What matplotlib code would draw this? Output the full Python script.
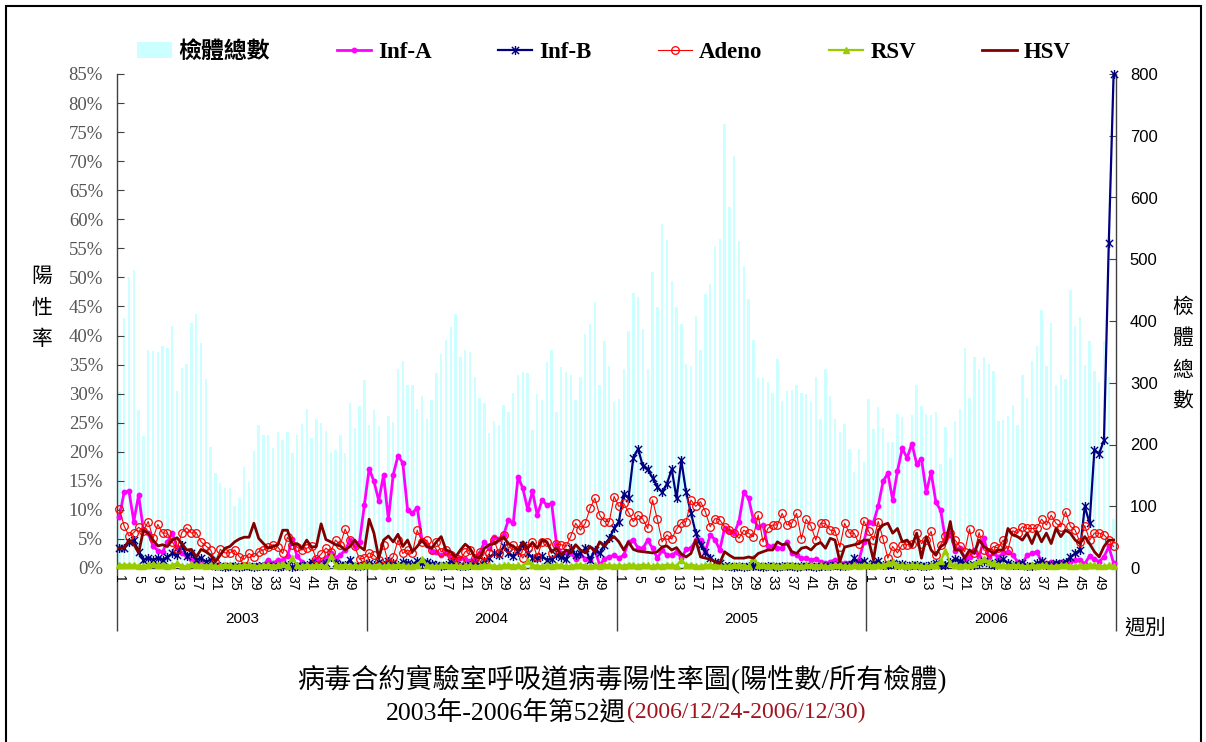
import numpy as np
import matplotlib
matplotlib.use("Agg")
import matplotlib.pyplot as plt
from matplotlib.path import Path
from matplotlib.patches import Patch, Rectangle
from matplotlib.ticker import FuncFormatter

# ── Data (weekly, 2003 wk1 .. 2006 wk52) ─────────────────────────────────
years = ["2003", "2004", "2005", "2006"]
week_labels = [str(w) for w in range(1, 53, 4)]

specimens = [
    # 2003
    285, 405, 472, 483, 256, 213, 353, 351, 349, 360,
    357, 392, 287, 324, 331, 397, 412, 365, 306, 196,
    154, 138, 129, 130, 100, 114, 164, 140, 189, 232,
    215, 215, 194, 221, 207, 221, 187, 215, 233, 257,
    210, 241, 235, 222, 188, 191, 215, 187, 268, 226,
    262, 304,
    # 2004
    232, 256, 230, 148, 246, 237, 322, 335, 296, 296,
    257, 279, 241, 272, 315, 347, 370, 391, 412, 342,
    353, 350, 310, 275, 268, 219, 238, 232, 264, 253,
    284, 313, 318, 315, 223, 281, 272, 334, 353, 253,
    326, 318, 313, 272, 310, 379, 395, 430, 296, 367,
    327, 269,
    # 2005
    273, 323, 383, 446, 439, 387, 323, 480, 422, 557,
    531, 465, 423, 395, 330, 327, 408, 353, 444, 460,
    521, 532, 719, 584, 667, 530, 489, 436, 370, 307,
    307, 302, 284, 338, 271, 287, 288, 296, 284, 282,
    269, 310, 242, 323, 279, 241, 220, 233, 193, 155,
    193, 171,
    # 2006
    273, 225, 260, 226, 204, 204, 249, 244, 195, 248,
    296, 262, 250, 248, 253, 168, 228, 178, 238, 257,
    356, 276, 341, 323, 341, 330, 319, 238, 240, 246,
    264, 232, 313, 276, 335, 360, 418, 327, 396, 296,
    313, 306, 451, 392, 406, 329, 368, 319, 302, 367,
    310, 80,
]

inf_a = [
    8.8, 13.1, 13.2, 8.0, 12.6, 6.5, 6.0, 3.8, 3.0, 2.8,
    4.5, 6.0, 3.5, 2.5, 2.0, 1.5, 1.0, 0.8, 0.5, 0.4,
    0.3, 0.3, 0.5, 0.3, 0.4, 0.3, 0.5, 0.3, 0.4, 0.5,
    0.6, 1.4, 0.8, 1.4, 1.3, 2.0, 5.0, 2.0, 1.1, 0.6,
    1.0, 1.5, 1.0, 1.8, 2.5, 1.8, 2.2, 3.1, 4.8, 3.8,
    4.5, 10.8,
    17.1, 14.9, 11.6, 16.0, 8.4, 16.0, 19.3, 18.1, 10.0, 9.4,
    10.4, 4.8, 4.0, 3.0, 2.8, 2.2, 2.5, 2.0, 1.5, 1.8,
    1.5, 1.2, 1.6, 2.5, 4.5, 3.5, 5.4, 5.0, 5.7, 8.3,
    7.7, 15.7, 13.7, 10.1, 13.2, 9.1, 11.7, 10.8, 11.1, 4.2,
    2.5, 2.8, 2.5, 1.6, 2.2, 1.6, 1.4, 3.1, 0.5, 1.6,
    1.9, 2.2,
    1.7, 2.2, 4.5, 4.8, 3.4, 3.4, 4.8, 3.4, 1.7, 3.1,
    2.2, 2.2, 2.8, 1.7, 3.2, 3.4, 4.8, 4.8, 2.8, 5.7,
    4.9, 3.1, 6.8, 6.3, 6.0, 8.0, 13.0, 12.0, 8.3, 7.1,
    7.4, 3.7, 3.7, 3.4, 3.4, 4.5, 2.5, 2.2, 1.7, 1.7,
    1.4, 1.5, 1.1, 0.8, 1.1, 1.4, 0.9, 0.8, 0.8, 1.1,
    1.4, 4.5,
    8.0, 7.8, 10.7, 14.9, 16.3, 11.7, 16.7, 20.6, 18.9, 21.4,
    17.9, 18.8, 13.0, 16.5, 11.3, 9.9, 4.8, 6.1, 3.0, 3.4,
    1.8, 1.9, 3.1, 1.9, 5.1, 1.9, 2.5, 1.9, 2.5, 2.8,
    2.2, 1.1, 0.8, 2.2, 2.5, 2.8, 1.1, 0.8, 1.1, 0.8,
    1.1, 0.8, 1.1, 1.4, 1.4, 0.7, 2.1, 1.5, 1.1, 1.9,
    3.7, 0.8,
]

inf_b = [
    3.4, 3.4, 4.5, 4.8, 2.8, 1.4, 1.7, 1.4, 1.7, 1.4,
    1.9, 2.5, 2.2, 4.0, 2.1, 2.6, 1.4, 1.7, 1.1, 1.4,
    0.3, 0.3, 0.2, 0.3, 0.3, 0.2, 0.3, 0.3, 0.2, 0.3,
    0.3, 0.4, 0.3, 0.2, 0.3, 0.5, 0.1, 0.3, 0.4, 0.5,
    1.1, 0.6, 0.5, 0.8, 1.9, 0.8, 0.6, 0.5, 1.4, 0.3,
    0.4, 0.6,
    0.8, 0.5, 1.0, 0.6, 1.2, 0.8, 0.5, 1.0, 0.9, 0.6,
    1.2, 0.8, 1.1, 0.7, 0.5, 0.4, 0.6, 1.1, 0.5, 0.4,
    0.3, 0.5, 0.8, 0.5, 1.2, 1.8, 2.5, 2.2, 3.7, 2.5,
    2.0, 2.8, 4.0, 2.5, 1.8, 1.7, 2.0, 1.4, 1.5, 2.2,
    1.9, 1.5, 3.4, 2.2, 2.5, 3.4, 1.4, 3.1, 2.5, 4.0,
    5.1, 6.8,
    8.0, 12.8, 12.0, 19.0, 20.5, 17.5, 17.0, 15.5, 14.0, 13.0,
    14.5, 17.0, 12.0, 18.5, 13.0, 9.5, 6.0, 4.0, 2.8, 1.8,
    1.0, 0.8, 0.4, 0.3, 0.2, 0.3, 0.2, 0.3, 0.4, 0.3,
    0.2, 0.3, 0.3, 0.2, 0.4, 0.3, 0.3, 0.2, 0.4, 0.3,
    0.3, 0.2, 0.3, 0.4, 0.3, 0.5, 0.4, 0.3, 0.5, 1.7,
    0.8, 1.2,
    0.5, 0.8, 1.2, 0.5, 0.6, 0.8, 0.5, 0.7, 0.4, 0.6,
    0.5, 0.3, 0.4, 0.6, 0.8, 0.5, 0.6, 1.0, 1.5, 1.2,
    0.8, 0.6, 0.5, 0.9, 1.2, 0.8, 0.6, 1.0, 1.5, 0.8,
    0.6, 0.5, 0.9, 0.4, 0.3, 0.8, 1.2, 0.5, 0.6, 0.9,
    0.7, 1.1, 1.9, 2.5, 3.1, 10.6, 7.7, 20.3, 19.7, 22.0,
    56.0, 85.0,
]

adeno = [
    10.1, 7.2, 5.5, 6.1, 7.0, 6.4, 8.0, 5.1, 7.5, 6.0,
    6.0, 4.5, 3.2, 6.1, 6.9, 6.0, 6.1, 4.5, 3.8, 3.1,
    1.1, 3.2, 2.6, 2.6, 3.1, 1.9, 1.5, 2.5, 1.9, 2.8,
    3.1, 3.6, 4.0, 3.6, 2.5, 5.3, 4.0, 3.6, 3.1, 3.4,
    3.8, 1.5, 2.4, 3.4, 2.8, 4.8, 4.0, 6.7, 4.8, 3.7,
    1.5, 1.7,
    2.6, 2.2, 1.4, 4.0, 0.8, 1.9, 4.8, 2.5, 3.1, 2.5,
    6.5, 4.5, 4.8, 3.1, 4.5, 2.8, 3.1, 2.2, 1.7, 1.4,
    2.8, 3.1, 1.7, 2.8, 1.1, 2.5, 4.8, 2.5, 5.7, 3.4,
    4.0, 3.1, 1.7, 3.4, 4.5, 1.9, 4.5, 4.5, 2.5, 4.1,
    4.0, 3.7, 5.5, 7.7, 6.5, 7.7, 10.3, 12.0, 9.1, 8.0,
    8.0, 12.3,
    10.6, 11.1, 9.6, 8.0, 9.1, 8.4, 6.8, 11.7, 8.4, 4.5,
    5.7, 5.0, 6.7, 7.8, 8.0, 11.7, 10.6, 11.4, 9.7, 7.1,
    8.5, 8.3, 7.1, 6.5, 6.1, 5.1, 6.5, 6.0, 5.4, 9.1,
    4.5, 6.8, 7.4, 7.4, 9.4, 7.4, 7.7, 9.4, 5.0, 8.4,
    7.2, 4.8, 7.7, 7.7, 6.5, 6.4, 3.6, 7.7, 6.0, 6.0,
    4.1, 8.1,
    6.3, 4.8, 8.0, 5.0, 1.7, 3.7, 2.6, 4.0, 4.0, 4.2,
    6.0, 4.2, 4.8, 6.3, 2.2, 4.0, 5.5, 6.0, 4.8, 3.7,
    2.8, 6.7, 2.5, 6.1, 3.1, 2.8, 3.7, 3.4, 4.8, 3.1,
    6.4, 6.0, 7.1, 6.8, 6.8, 6.8, 8.4, 7.4, 9.1, 7.7,
    7.1, 9.7, 7.2, 6.5, 4.4, 7.3, 4.8, 6.0, 6.0, 5.7,
    4.8, 3.7,
]

rsv = [
    0.6, 0.5, 0.6, 0.5, 0.4, 0.3, 0.6, 0.7, 0.5, 0.6,
    0.4, 0.5, 0.8, 0.4, 0.3, 0.7, 0.5, 0.6, 0.4, 0.5,
    0.3, 0.4, 0.6, 0.5, 0.3, 0.4, 0.5, 0.6, 0.4, 0.3,
    0.5, 0.6, 0.4, 0.5, 0.7, 0.4, 1.7, 0.5, 0.3, 0.6,
    0.4, 0.5, 0.6, 0.3, 2.0, 0.5, 0.4, 0.6, 0.3, 0.5,
    0.4, 0.6,
    0.5, 0.4, 0.6, 0.3, 0.5, 0.4, 0.6, 0.5, 0.3, 0.4,
    0.6, 1.5, 0.5, 0.4, 0.3, 0.5, 0.6, 0.4, 0.5, 0.3,
    0.4, 0.5, 0.3, 0.4, 0.6, 0.5, 0.4, 0.3, 0.5, 0.6,
    0.4, 0.5, 0.3, 1.2, 0.5, 0.4, 0.3, 0.5, 0.4, 0.6,
    0.5, 0.3, 0.4, 0.5, 0.6, 0.4, 0.3, 0.5, 0.4, 0.6,
    0.5, 0.4,
    0.5, 0.4, 0.6, 0.5, 0.4, 0.6, 0.5, 0.3, 0.5, 0.4,
    0.6, 0.5, 0.4, 1.4, 0.5, 0.6, 0.4, 0.3, 0.5, 0.6,
    0.4, 0.5, 0.3, 0.4, 0.5, 0.6, 0.4, 0.3, 1.7, 0.5,
    0.6, 0.4, 0.5, 0.3, 0.4, 0.6, 0.5, 0.4, 0.3, 0.5,
    0.6, 0.4, 0.5, 0.3, 0.4, 0.6, 0.5, 0.4, 0.3, 0.5,
    0.4, 0.6,
    0.5, 0.4, 0.6, 0.5, 0.8, 1.0, 0.6, 0.5, 0.4, 0.6,
    0.5, 0.4, 0.3, 0.5, 0.6, 1.2, 3.0, 0.8, 0.5, 0.4,
    0.6, 0.5, 0.7, 1.2, 1.5, 1.0, 0.8, 0.6, 0.5, 0.4,
    0.6, 0.5, 0.4, 0.3, 0.5, 0.4, 0.6, 0.5, 0.3, 0.4,
    0.5, 0.6, 0.4, 0.3, 0.5, 0.4, 0.6, 0.5, 0.4, 0.3,
    0.5, 0.4,
]

hsv = [
    3.4, 3.5, 4.8, 4.1, 2.6, 6.5, 6.0, 4.8, 3.8, 4.0,
    3.7, 4.8, 5.2, 4.2, 3.1, 3.2, 1.9, 3.2, 2.8, 2.2,
    1.1, 2.2, 3.4, 3.7, 4.5, 5.0, 5.3, 5.3, 7.7, 5.1,
    4.2, 3.4, 3.7, 4.0, 6.5, 6.5, 4.0, 4.2, 3.4, 4.8,
    3.6, 3.7, 7.6, 4.9, 4.5, 4.0, 3.8, 3.1, 3.7, 4.8,
    3.7, 3.1,
    8.4, 6.0, 1.7, 4.8, 5.5, 4.5, 5.8, 3.7, 4.8, 2.8,
    3.7, 4.8, 3.7, 3.4, 4.5, 5.4, 3.1, 2.8, 1.9, 3.1,
    4.1, 3.4, 1.9, 1.7, 3.4, 4.0, 4.2, 4.8, 5.3, 4.2,
    3.7, 3.1, 4.5, 3.4, 4.4, 3.4, 4.8, 4.5, 2.8, 3.4,
    2.2, 3.1, 2.6, 4.0, 3.1, 2.6, 3.7, 2.8, 4.5, 3.7,
    4.8, 5.4,
    4.5, 3.1, 4.5, 3.2, 2.9, 2.8, 2.7, 2.6, 2.8, 3.6,
    3.8, 3.1, 3.5, 2.4, 1.9, 2.5, 4.8, 1.9, 1.7, 1.5,
    1.1, 0.8, 2.8, 2.2, 1.7, 1.7, 1.7, 1.9, 1.7, 2.5,
    2.8, 3.1, 3.1, 4.5, 4.0, 4.2, 2.8, 2.5, 3.4, 3.6,
    3.1, 4.0, 4.4, 3.4, 5.1, 4.8, 1.1, 3.6, 3.8, 4.0,
    4.2, 4.8,
    4.8, 1.4, 6.5, 7.4, 7.7, 6.0, 6.8, 4.5, 4.8, 3.7,
    6.0, 1.7, 5.4, 3.1, 2.2, 3.7, 4.2, 8.0, 3.1, 3.1,
    1.7, 3.1, 2.5, 4.8, 3.7, 3.1, 2.5, 3.1, 3.1, 6.8,
    5.7, 5.4, 4.8, 6.0, 4.2, 6.3, 4.5, 6.0, 4.2, 6.8,
    5.4, 6.5, 6.0, 4.8, 4.2, 5.4, 4.2, 2.8, 1.9, 3.7,
    4.8, 4.8,
]

# ── Figure ────────────────────────────────────────────────────────────────
W, H = 1206, 742
CJK = ["Liberation Serif", "Noto Sans CJK TC"]
CJK_SANS = ["Noto Sans CJK TC", "DejaVu Sans"]

fig = plt.figure(figsize=(W / 100, H / 100), dpi=100)
ax = fig.add_axes([117 / W, 1 - 568 / H, (1116 - 117) / W, (568 - 74) / H])

n_weeks = 52 * len(years)
x = np.arange(n_weeks)

# bars (right axis)
ax.bar(x, specimens, width=0.5, color="#CCFFFF", zorder=1)
ax.set_ylim(0, 800)
ax.set_xlim(-0.5, n_weeks - 0.5)

# lines (left axis)
ax2 = ax.twinx()
ax2.yaxis.tick_left()
ax.yaxis.tick_right()

ax.set_yticks(range(0, 801, 100))
ax.tick_params(axis="y", direction="in", length=5, labelsize=12, pad=10,
               colors="#404040", labelcolor="black")
for lab in ax.get_yticklabels():
    lab.set_family("Liberation Sans")

ax2.set_ylim(0, 85)
ax2.set_yticks(range(0, 86, 5))
ax2.yaxis.set_major_formatter(FuncFormatter(lambda v, p: f"{int(v)}%"))
ax2.tick_params(axis="y", direction="in", length=5, labelsize=13.5, pad=10,
                colors="#404040", labelcolor="#555555")
for lab in ax2.get_yticklabels():
    lab.set_family("Liberation Serif")

star = Path([(-1, -1), (1, 1), (-1, 1), (1, -1), (0, -1.25), (0, 1.25)],
            [Path.MOVETO, Path.LINETO, Path.MOVETO, Path.LINETO,
             Path.MOVETO, Path.LINETO])

l_a, = ax2.plot(x, inf_a, color="#FF00FF", lw=2.0, marker="o", ms=3.2,
                mec="#FF00FF", clip_on=False, label="Inf-A")
l_b, = ax2.plot(x, inf_b, color="#000080", lw=1.6, marker=star, ms=6.5,
                mew=1.0, mec="#000080", clip_on=False, label="Inf-B")
l_ad, = ax2.plot(x, adeno, color="#FF0000", lw=0.8, marker="o", ms=5.5,
                 mfc="none", mec="#FF0000", mew=0.9, clip_on=False, label="Adeno")
l_r, = ax2.plot(x, rsv, color="#99CC00", lw=1.6, marker="^", ms=4,
                mec="#99CC00", clip_on=False, label="RSV")
l_h, = ax2.plot(x, hsv, color="#800000", lw=2.0, clip_on=False, label="HSV")

# spines
for sp in ax2.spines.values():
    sp.set_visible(False)
ax.spines["top"].set_visible(False)
for side in ("left", "right", "bottom"):
    ax.spines[side].set_color("#404040")
    ax.spines[side].set_linewidth(1.0)

# x axis: year separators + week labels
bounds = [52 * i - 0.5 for i in range(len(years) + 1)]
ax.set_xticks(bounds)
ax.set_xticklabels([""] * len(bounds))
ax.tick_params(axis="x", which="major", direction="out", length=45,
               color="#404040", width=1.0)
week_pos = [52 * yi + k for yi in range(len(years)) for k in range(0, 52, 4)]
ax.set_xticks(week_pos, minor=True)
ax.set_xticklabels(week_labels * len(years), minor=True, rotation=-90,
                   fontsize=10, family="Liberation Sans")
ax.tick_params(axis="x", which="minor", length=0, pad=5)
for yi, yr in enumerate(years):
    ax.text(52 * yi + 25.5, -0.103, yr, transform=ax.get_xaxis_transform(),
            ha="center", va="center", fontsize=11, family="Liberation Sans")

# axis titles
for i, ch in enumerate("陽性率"):
    fig.text(42 / W, 1 - (276 + 31.5 * i) / H, ch, ha="center", va="center",
             fontsize=15, family=CJK_SANS)
for i, ch in enumerate("檢體總數"):
    fig.text(1183 / W, 1 - (307 + 31.3 * i) / H, ch, ha="center", va="center",
             fontsize=15, family=CJK_SANS)
fig.text(1145 / W, 1 - 628 / H, "週別", ha="center", va="center",
         fontsize=15, family=CJK_SANS)

# legend
handles = [Patch(facecolor="#CCFFFF", edgecolor="none"), l_a, l_b, l_ad, l_r, l_h]
labels = ["檢體總數", "Inf-A", "Inf-B", "Adeno", "RSV", "HSV"]
fig.legend(handles, labels, loc="center", bbox_to_anchor=(604 / W, 1 - 52 / H),
           ncol=6, frameon=False, handlelength=1.5, handletextpad=0.3,
           columnspacing=2.9,
           prop={"family": CJK, "weight": "bold", "size": 16.5})

# title
fig.text(622 / W, 1 - 680 / H, "病毒合約實驗室呼吸道病毒陽性率圖(陽性數/所有檢體)",
         ha="center", va="center", fontsize=19.5, family=CJK)
fig.text(626 / W, 1 - 712 / H, "2003年-2006年第52週", ha="right", va="center",
         fontsize=18.5, family=CJK)
fig.text(627 / W, 1 - 712 / H, "(2006/12/24-2006/12/30)", ha="left",
         va="center", fontsize=17, family=CJK, color="#A0141E")

# outer frame
fig.add_artist(Rectangle((6 / W, -0.01), (1201 - 6) / W, 1 - 6 / H + 0.01,
                         transform=fig.transFigure, fill=False, lw=1.5,
                         ec="black"))

fig.savefig("out.png", dpi=100)
